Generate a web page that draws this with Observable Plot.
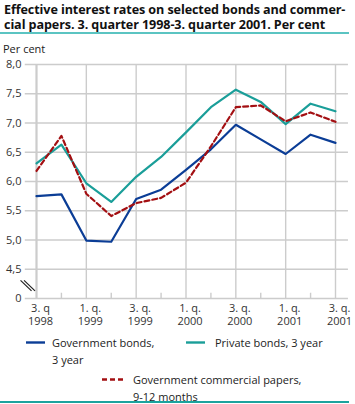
<!DOCTYPE html>
<html>
<head>
<meta charset="utf-8">
<script src="https://cdn.jsdelivr.net/npm/d3@7"></script>
<script src="https://cdn.jsdelivr.net/npm/@observablehq/plot@0.6"></script>
<style>
  html, body { margin: 0; padding: 0; background: #fff; }
  #wrap { position: relative; width: 355px; height: 404px; overflow: hidden; font-family: "Open Sans", "DejaVu Sans", sans-serif; color: #222; }
  #title { position: absolute; left: 4px; top: 2px; width: 352px; font-weight: bold; font-size: 12.6px; line-height: 15px; color: #111; letter-spacing: -0.1px; }
  #rule-top { position: absolute; left: 0; top: 32px; width: 349px; height: 2px; background: #5bc4c2; }
  #rule-bot { position: absolute; left: 0; top: 401px; width: 349px; height: 2px; background: #1ca39e; }
  #unit { position: absolute; left: 3px; top: 41px; font-size: 11px; color: #222; }
  #chart { position: absolute; left: 0; top: 0; }
  .leg { position: absolute; font-size: 11px; line-height: 17px; color: #222; }
  .leg svg { position: absolute; left: 0; top: 0; }
</style>
</head>
<body>
<div id="wrap">
  <div id="chart"></div>
  <div id="title">Effective interest rates on selected bonds and commer-<br>cial papers. 3. quarter 1998-3. quarter 2001. Per cent</div>
  <div id="rule-top"></div>
  <div id="unit">Per cent</div>
  <div id="legend"></div>
  <div id="rule-bot"></div>
</div>
<script>
// Quarters, 3. q 1998 .. 3. q 2001
const quarters = ["3q1998","4q1998","1q1999","2q1999","3q1999","4q1999","1q2000","2q2000","3q2000","4q2000","1q2001","2q2001","3q2001"];
const govBonds   = [5.75, 5.78, 4.99, 4.97, 5.70, 5.86, 6.20, 6.55, 6.97, 6.72, 6.47, 6.80, 6.66];
const privBonds  = [6.31, 6.63, 5.97, 5.65, 6.08, 6.42, 6.84, 7.27, 7.57, 7.36, 6.98, 7.33, 7.20];
const commPapers = [6.18, 6.78, 5.79, 5.41, 5.63, 5.72, 5.98, 6.60, 7.27, 7.30, 7.03, 7.18, 7.02];

const seriesNames = ["Government bonds, 3 year", "Private bonds, 3 year", "Government commercial papers, 9-12 months"];
const seriesColors = ["#0b3d96", "#1a9e99", "#a30f12"];

// y ticks (axis broken: bottom tick "0" sits at 4.0)
const yTickValues = [4, 4.5, 5, 5.5, 6, 6.5, 7, 7.5, 8];
const yTickLabels = ["0", "4,5", "5,0", "5,5", "6,0", "6,5", "7,0", "7,5", "8,0"];

// x tick labels (every second quarter)
const xTickIndex = [0, 2, 4, 6, 8, 10, 12];
const xTickLine1 = ["3. q", "1. q.", "3. q.", "1. q.", "3. q.", "1. q.", "3. q."];
const xTickLine2 = ["1998", "1999", "1999", "2000", "2000", "2001", "2001"];

const idx = quarters.map((_, i) => i);
const rows = (vals) => vals.map((v, i) => ({i, v}));
const gridY = yTickValues;
const minorX = idx.filter(i => i % 2 === 1);
const majorX = xTickIndex.filter(i => i > 0);

const grid = "#cccccc";
const chart = Plot.plot({
  width: 355,
  height: 335,
  marginTop: 64,
  marginBottom: 37,
  marginLeft: 36,
  marginRight: 20,
  x: {domain: [0, 12], axis: null},
  y: {domain: [4, 8], axis: null},
  style: {fontFamily: "'Open Sans', 'DejaVu Sans', sans-serif", fontSize: "11px", color: "#222", background: "transparent", overflow: "visible"},
  marks: [
    Plot.ruleY(gridY, {y: d => d, x1: -0.45, x2: 12.52, stroke: grid, strokeWidth: 1.4}),
    Plot.ruleX(majorX, {x: d => d, y1: 4, y2: 8, stroke: grid, strokeWidth: 1.4}),
    Plot.ruleX([0], {x: d => d, y1: 4, y2: 8, stroke: grid, strokeWidth: 2.2}),
    Plot.ruleX(minorX, {x: d => d, y1: 4, y2: 4.09, stroke: grid, strokeWidth: 1.4}),
    // axis break marks
    Plot.link([0, 1], {x1: d => -0.64 + d * 0.14, y1: d => 4.31, x2: d => -0.2 + d * 0.14, y2: d => 4.13, stroke: "#222", strokeWidth: 1.2}),
    Plot.line(rows(govBonds), {x: "i", y: "v", stroke: seriesColors[0], strokeWidth: 2.2}),
    Plot.line(rows(privBonds), {x: "i", y: "v", stroke: seriesColors[1], strokeWidth: 2.2}),
    Plot.line(rows(commPapers), {x: "i", y: "v", stroke: seriesColors[2], strokeWidth: 2.2, strokeDasharray: "5,3"}),
    Plot.text(yTickValues.map((v, k) => ({v, t: yTickLabels[k]})), {x: () => 0, y: "v", text: "t", dx: -15, textAnchor: "end", fill: "#333", fontSize: 11}),
    Plot.text(xTickIndex.map((v, k) => ({v, t: xTickLine1[k] + "\n" + xTickLine2[k]})), {x: "v", y: () => 4, text: "t", dy: 5, dx: 4, lineAnchor: "top", lineHeight: 1.12, fill: "#333", fontSize: 11})
  ]
});
document.getElementById("chart").appendChild(chart);

// Legend
const legendItems = [
  {lines: ["Government bonds,", "3 year"], left: 26, top: 334, color: seriesColors[0], dash: null, gap: 26},
  {lines: ["Private bonds, 3 year"], left: 186, top: 334, color: seriesColors[1], dash: null, gap: 29},
  {lines: ["Government commercial papers,", "9-12 months"], left: 102, top: 371, color: seriesColors[2], dash: "5,3", gap: 31}
];
const legend = document.getElementById("legend");
for (const it of legendItems) {
  const d = document.createElement("div");
  d.className = "leg";
  d.style.left = it.left + "px";
  d.style.top = it.top + "px";
  d.innerHTML = `<svg width="24" height="17"><line x1="0" x2="${it.dash ? 21 : 19}" y1="8.5" y2="8.5" stroke="${it.color}" stroke-width="2.4" ${it.dash ? `stroke-dasharray="${it.dash}"` : ""}/></svg>` +
    `<div style="margin-left:${it.gap}px">${it.lines.join("<br>")}</div>`;
  legend.appendChild(d);
}
</script>
</body>
</html>
